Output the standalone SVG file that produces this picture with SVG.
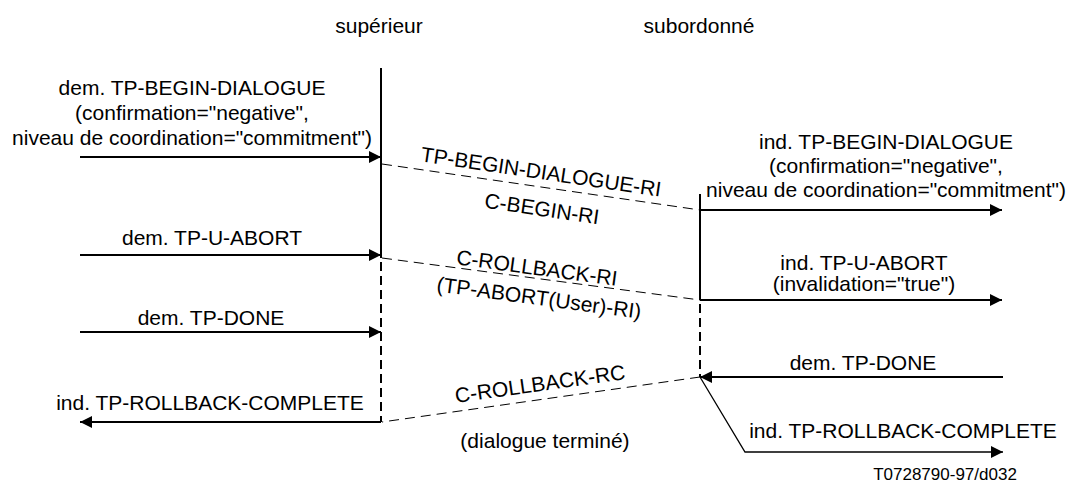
<svg xmlns="http://www.w3.org/2000/svg" width="1073" height="485" viewBox="0 0 1073 485">
  <style>
    text { font-family: "Liberation Sans", Arial, sans-serif; font-size: 21px; fill: #000; }
    .mid { text-anchor: middle; }
    .ref { font-size: 17px; }
    .life { stroke: #000; stroke-width: 2; fill: none; }
    .life-dash { stroke: #000; stroke-width: 2; fill: none; stroke-dasharray: 9 5; }
    .msg { stroke: #000; stroke-width: 2; fill: none; }
    .msg-thin { stroke: #000; stroke-width: 1.3; fill: none; }
    .pdu { stroke: #000; stroke-width: 1; fill: none; stroke-dasharray: 10 6; }
  </style>
  <defs>
    <marker id="arrow" markerUnits="userSpaceOnUse" markerWidth="12" markerHeight="12" refX="12" refY="6" orient="auto">
      <path d="M0,0 L12,6 L0,12 z" fill="#000"/>
    </marker>
  </defs>

  <rect width="1073" height="485" fill="#fff"/>

  <!-- superior lifeline -->
  <g id="superieur">
    <text class="mid" x="379" y="33">supérieur</text>
    <line class="life" x1="381" y1="68" x2="381" y2="258"/>
    <line class="life-dash" x1="381" y1="262" x2="381" y2="422"/>
  </g>

  <!-- subordinate lifeline -->
  <g id="subordonne">
    <text class="mid" x="699" y="33">subordonné</text>
    <line class="life" x1="700" y1="194" x2="700" y2="300"/>
    <line class="life-dash" x1="700" y1="304" x2="700" y2="377"/>
  </g>

  <!-- service primitives and protocol data units -->
  <g id="connectors">
    <line class="msg" x1="80" y1="157" x2="381" y2="157" marker-end="url(#arrow)"/>
    <line class="msg" x1="80" y1="255" x2="381" y2="255" marker-end="url(#arrow)"/>
    <line class="msg" x1="80" y1="332" x2="381" y2="332" marker-end="url(#arrow)"/>
    <line class="msg" x1="381" y1="422" x2="80" y2="422" marker-end="url(#arrow)"/>

    <line class="pdu" x1="382" y1="164" x2="700" y2="210"/>
    <line class="pdu" x1="382" y1="258" x2="700" y2="300"/>
    <line class="pdu" x1="700" y1="377" x2="382" y2="422"/>

    <line class="msg" x1="700" y1="210" x2="1002" y2="210" marker-end="url(#arrow)"/>
    <line class="msg" x1="700" y1="300" x2="1002" y2="300" marker-end="url(#arrow)"/>
    <line class="msg" x1="1003" y1="377" x2="700" y2="377" marker-end="url(#arrow)"/>
    <polyline class="msg-thin" points="700,377 745,452 1003,452" marker-end="url(#arrow)"/>
  </g>

  <!-- labels -->
  <g id="labels">
    <text class="mid" x="192" y="95">dem. TP-BEGIN-DIALOGUE</text>
    <text class="mid" x="192" y="120">(confirmation="negative",</text>
    <text class="mid" x="192" y="145">niveau de coordination="commitment")</text>
    <text class="mid" x="212" y="245">dem. TP-U-ABORT</text>
    <text class="mid" x="211" y="325">dem. TP-DONE</text>
    <text class="mid" x="210" y="410">ind. TP-ROLLBACK-COMPLETE</text>

    <text class="mid" transform="translate(540,179) rotate(8.4)">TP-BEGIN-DIALOGUE-RI</text>
    <text class="mid" transform="translate(541,216) rotate(8.4)">C-BEGIN-RI</text>
    <text class="mid" transform="translate(536,275) rotate(7.7)">C-ROLLBACK-RI</text>
    <text class="mid" transform="translate(538,305) rotate(7.7)">(TP-ABORT(User)-RI)</text>
    <text class="mid" transform="translate(541,391) rotate(-8)">C-ROLLBACK-RC</text>
    <text class="mid" x="545" y="448">(dialogue terminé)</text>

    <text class="mid" x="886" y="149">ind. TP-BEGIN-DIALOGUE</text>
    <text class="mid" x="886" y="173">(confirmation="negative",</text>
    <text class="mid" x="886" y="197">niveau de coordination="commitment")</text>
    <text class="mid" x="864" y="270">ind. TP-U-ABORT</text>
    <text class="mid" x="864" y="291">(invalidation="true")</text>
    <text class="mid" x="863" y="370">dem. TP-DONE</text>
    <text class="mid" x="903" y="438">ind. TP-ROLLBACK-COMPLETE</text>
    <text class="mid ref" x="945" y="480">T0728790-97/d032</text>
  </g>
</svg>
